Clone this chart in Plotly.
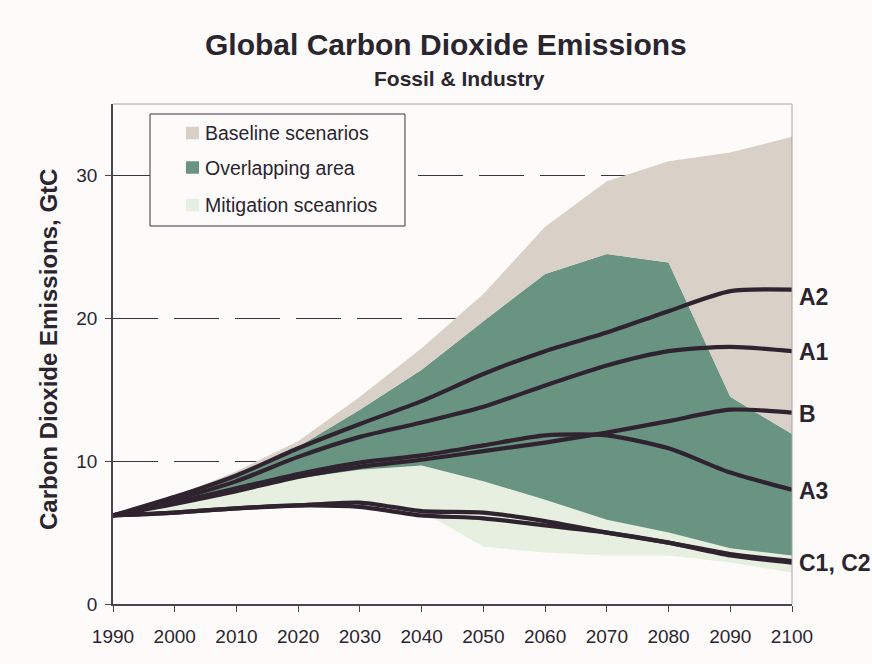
import plotly.graph_objects as go

years = [1990, 2000, 2010, 2020, 2030, 2040, 2050, 2060, 2070, 2080, 2090, 2100]

# Range boundaries (GtC)
baseline_upper = [6.2, 7.5, 9.3, 11.4, 14.5, 17.9, 21.7, 26.4, 29.6, 31.0, 31.6, 32.7]
mitigation_upper = [6.2, 7.4, 9.0, 11.0, 13.6, 16.4, 19.8, 23.1, 24.5, 23.9, 14.5, 11.9]
baseline_lower = [6.2, 7.0, 7.9, 8.8, 9.4, 9.7, 8.6, 7.3, 5.9, 5.0, 3.9, 3.4]
mitigation_lower = [6.2, 6.4, 6.6, 6.8, 6.7, 6.5, 4.0, 3.6, 3.4, 3.4, 2.9, 2.2]

# Scenario lines
A2 = [6.2, 7.5, 9.0, 10.9, 12.6, 14.2, 16.1, 17.7, 19.0, 20.5, 21.9, 22.0]
A1 = [6.2, 7.3, 8.6, 10.3, 11.7, 12.7, 13.8, 15.3, 16.7, 17.7, 18.0, 17.7]
B = [6.2, 7.0, 7.9, 8.9, 9.6, 10.1, 10.7, 11.3, 12.0, 12.8, 13.6, 13.4]
A3 = [6.2, 7.1, 8.1, 9.1, 9.9, 10.4, 11.1, 11.8, 11.8, 10.9, 9.2, 8.0]
C1 = [6.2, 6.4, 6.7, 6.9, 7.1, 6.5, 6.4, 5.8, 5.0, 4.3, 3.5, 3.0]
C2 = [6.2, 6.4, 6.7, 6.9, 6.8, 6.2, 6.0, 5.5, 5.0, 4.3, 3.4, 2.9]

line_names = ["A2", "A1", "B", "A3", "C1", "C2"]
line_values = [A2, A1, B, A3, C1, C2]
end_labels = ["A2", "A1", "B", "A3", "C1, C2"]
end_values = [A2[-1], A1[-1], B[-1], A3[-1], (C1[-1] + C2[-1]) / 2]

legend_labels = ["Baseline scenarios", "Overlapping area", "Mitigation sceanrios"]

BG = "#FCFBF9"
BEIGE = "#D9D0C7"
DKGREEN = "#6A9482"
LTGREEN = "#E7F0E0"
LINE = "#2F2330"
TEXT = "#2B2530"
FONT = "Liberation Sans, Arial, sans-serif"

fig = go.Figure()

fig.add_trace(go.Scatter(x=years, y=mitigation_lower, mode="lines",
                         line=dict(width=0), showlegend=False, hoverinfo="skip"))
fig.add_trace(go.Scatter(x=years, y=baseline_lower, mode="lines", fill="tonexty",
                         fillcolor=LTGREEN, line=dict(width=0), showlegend=False))
fig.add_trace(go.Scatter(x=years, y=mitigation_upper, mode="lines", fill="tonexty",
                         fillcolor=DKGREEN, line=dict(width=0), showlegend=False))
fig.add_trace(go.Scatter(x=years, y=baseline_upper, mode="lines", fill="tonexty",
                         fillcolor=BEIGE, line=dict(width=0), showlegend=False))

for name, vals in zip(line_names, line_values):
    fig.add_trace(go.Scatter(x=years, y=vals, mode="lines", name=name,
                             line=dict(color=LINE, width=4.2, shape="spline", smoothing=0.7),
                             showlegend=False))

annotations = []
for lab, v in zip(end_labels, end_values):
    annotations.append(dict(x=years[-1], y=v, xref="x", yref="y", text=lab,
                            showarrow=False, xanchor="left", yanchor="middle",
                            xshift=5, yshift=(-7 if lab == "A2" else -1),
                            font=dict(family=FONT, size=23, color=TEXT, weight="bold")))

annotations.append(dict(x=0.490, y=1.118, xref="paper", yref="paper",
                        text="Global Carbon Dioxide Emissions", showarrow=False,
                        xanchor="center", yanchor="middle",
                        font=dict(family=FONT, size=30, color=TEXT, weight="bold")))
annotations.append(dict(x=0.511, y=1.05, xref="paper", yref="paper",
                        text="Fossil & Industry", showarrow=False,
                        xanchor="center", yanchor="middle",
                        font=dict(family=FONT, size=21, color=TEXT, weight="bold")))
annotations.append(dict(x=-0.0957, y=0.508, xref="paper", yref="paper",
                        text="Carbon Dioxide Emissions, GtC", showarrow=False,
                        textangle=-90, xanchor="center", yanchor="middle",
                        font=dict(family=FONT, size=24, color=TEXT, weight="bold")))

shapes = []
# legend box
shapes.append(dict(type="rect", xref="paper", yref="paper", x0=0.0545, x1=0.430,
                   y0=0.756, y1=0.98, fillcolor=BG, line=dict(color="#3A3340", width=1),
                   layer="above"))
legend_colors = [BEIGE, DKGREEN, LTGREEN]
legend_rows = [0.942, 0.873, 0.798]
for lab, col, yy in zip(legend_labels, legend_colors, legend_rows):
    shapes.append(dict(type="rect", xref="paper", yref="paper",
                       x0=0.1075, x1=0.1267, y0=yy - 0.0125, y1=yy + 0.0125,
                       fillcolor=col, line=dict(width=0), layer="above"))
    annotations.append(dict(x=0.1325, y=yy, xref="paper", yref="paper", text=lab,
                            showarrow=False, xanchor="left", yanchor="middle",
                            font=dict(family=FONT, size=19.5, color=TEXT)))

# top and right frame
shapes.append(dict(type="line", xref="paper", yref="paper", x0=0, x1=1, y0=1, y1=1,
                   line=dict(color="#A8A2A6", width=1), layer="above"))
shapes.append(dict(type="line", xref="paper", yref="paper", x0=1, x1=1, y0=0, y1=1,
                   line=dict(color="#A8A2A6", width=1), layer="above"))

fig.update_layout(
    width=872, height=664,
    margin=dict(l=113, r=80, t=104, b=60),
    paper_bgcolor=BG, plot_bgcolor=BG,
    font=dict(family=FONT, size=19, color=TEXT),
    showlegend=False,
    annotations=annotations,
    shapes=shapes,
    xaxis=dict(range=[1990, 2100], tickvals=years, ticks="outside", ticklen=6,
               tickcolor="#4A4450", showline=True, linecolor="#4A4450", linewidth=1.5,
               showgrid=False, zeroline=False, ticklabelstandoff=8,
               tickfont=dict(family=FONT, size=19, color=TEXT)),
    yaxis=dict(range=[0, 35], tickvals=[0, 10, 20, 30], ticks="outside", ticklen=6,
               tickcolor="#4A4450", showline=True, linecolor="#4A4450", linewidth=1.5,
               showgrid=True, gridcolor="#3A3340", gridwidth=1, griddash="45px,16px",
               zeroline=False, ticklabelstandoff=4,
               tickfont=dict(family=FONT, size=19, color=TEXT)),
)

fig.write_html("out.html",
               config={"displayModeBar": False},
               post_script="document.body.style.margin='0px';document.body.style.background='" + BG + "';")
